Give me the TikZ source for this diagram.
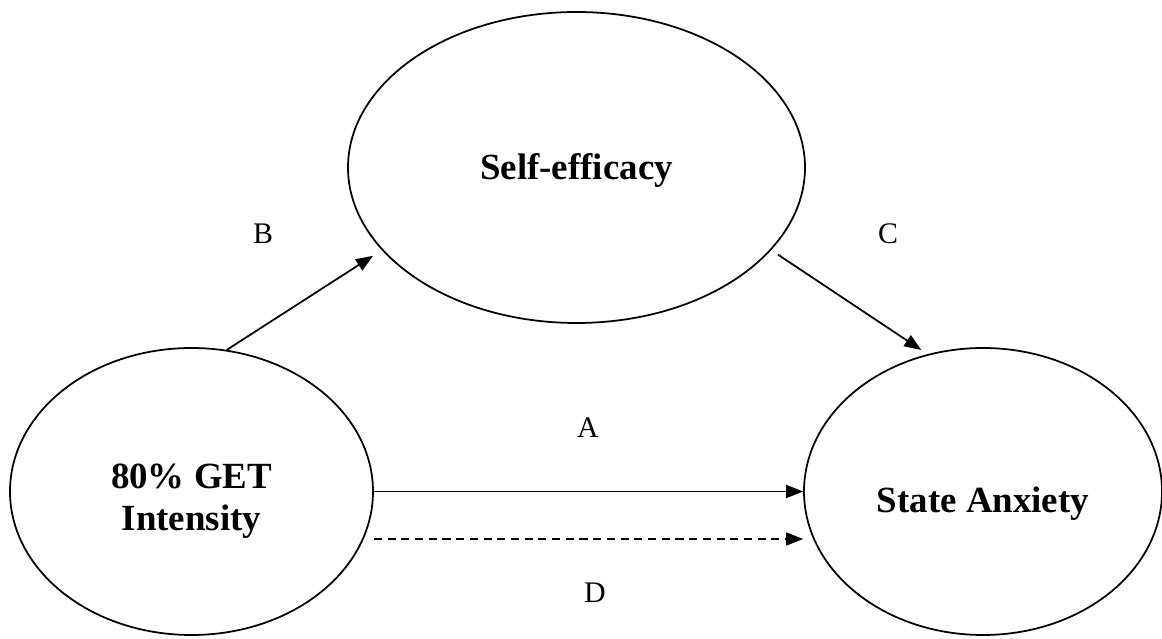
\documentclass[tikz,border=0pt]{standalone}
\usepackage{fontspec}
\setmainfont{Liberation Serif}
\usetikzlibrary{shapes.geometric,arrows.meta}

\begin{document}
\begin{tikzpicture}[
  var/.style={draw, ellipse, line width=1pt, inner sep=0pt},
  txt/.style={align=center, font=\fontsize{21}{24}\selectfont\bfseries},
  link/.style={-{Triangle[length=0.34cm,width=0.26cm]}, line width=1pt},
  lbl/.style={font=\fontsize{17}{20}\selectfont}]

\useasboundingbox (0,0) rectangle (23.24,12.76);

\node[var, minimum width=7.26cm, minimum height=5.74cm,
  label={[txt, yshift=-0.2cm]center:80\% GET\\Intensity}] (get) at (3.83,2.93) {};
\node[var, minimum width=9.14cm, minimum height=6.22cm,
  label={[txt, yshift=-0.05cm]center:Self-efficacy}] (se) at (11.53,9.41) {};
\node[var, minimum width=7.16cm, minimum height=5.74cm,
  label={[txt, yshift=-0.24cm]center:State Anxiety}] (sa) at (19.66,2.93) {};

\draw[link, shorten >=0.21cm] (get.76) -- (se.203);
\draw[link, shorten <=0.16cm, shorten >=0.15cm] (se.-23) -- (sa.112);

\draw[link] (get) -- (sa);
\draw[link, dash pattern=on 4.6pt off 3.2pt] ([yshift=-0.95cm]get.east) -- ([yshift=-0.95cm]sa.west);

\node[lbl] (b) at (5.26,8.08) {B};
\node[lbl] (c) at (17.76,8.08) {C};
\node[lbl] (a) at (11.76,4.2) {A};
\node[lbl] (d) at (11.9,0.9) {D};

\end{tikzpicture}
\end{document}
